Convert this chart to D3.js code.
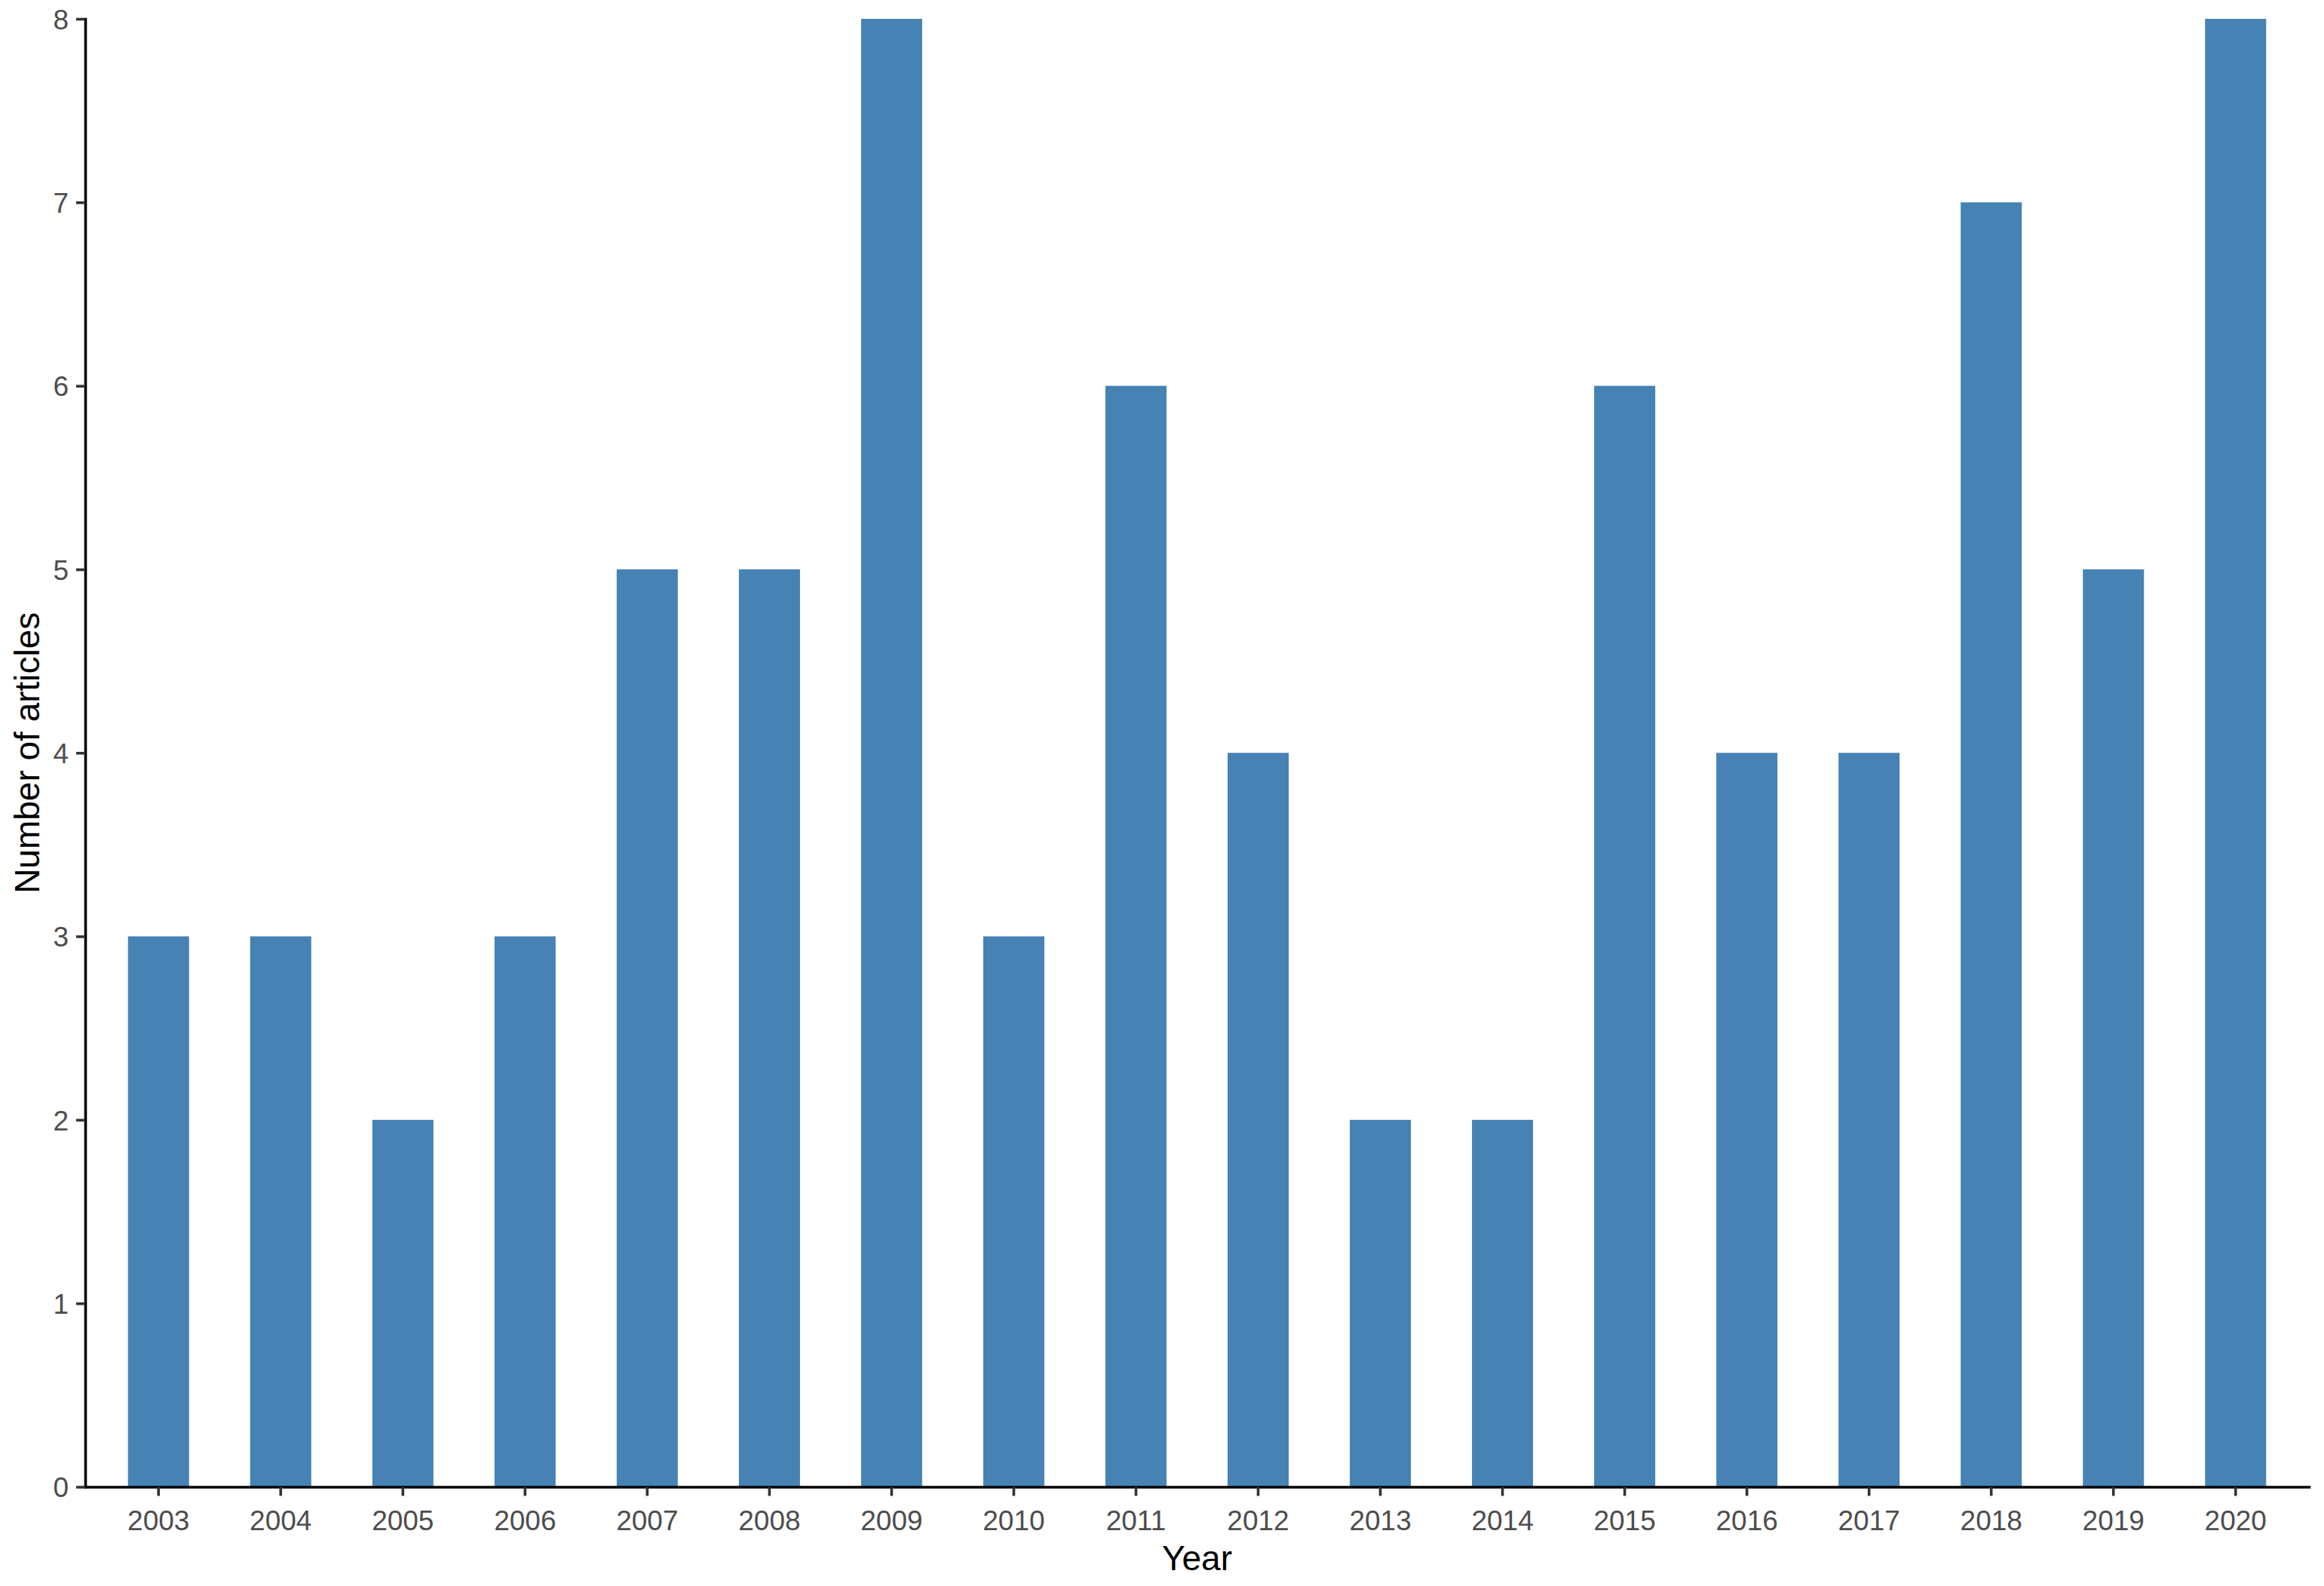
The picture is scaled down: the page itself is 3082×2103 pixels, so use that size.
<!DOCTYPE html>
<html>
<head>
<meta charset="utf-8">
<script src="https://cdn.jsdelivr.net/npm/d3@7"></script>
<style>
  body { margin: 0; background: #fff; }
  text { font-family: "Liberation Sans", Arial, sans-serif; }
</style>
</head>
<body>
<svg id="vis" width="3082" height="2103"></svg>
<script>
// articles per year
var years = ["2003", "2004", "2005", "2006", "2007", "2008", "2009", "2010", "2011",
             "2012", "2013", "2014", "2015", "2016", "2017", "2018", "2019", "2020"];
var articles = [3, 3, 2, 3, 5, 5, 8, 3, 6, 4, 2, 2, 6, 4, 4, 7, 5, 8];
var yTicks = [0, 1, 2, 3, 4, 5, 6, 7, 8];

var svg = d3.select("#vis");

let margin = {
  top:    25,
  right:  20,
  bottom: 131.5,
  left:   113
};
let width = 3082, height = 2103;
let plotRight = width - margin.right;
let plotBottom = height - margin.bottom;

var xScale = d3.scaleBand()
  .domain(years)
  .range([margin.left, plotRight])
  .paddingInner(0.5)
  .paddingOuter(0.35);

var yScale = d3.scaleLinear()
  .domain([0, 8])
  .range([plotBottom, margin.top]);

// bars
svg.append("g").selectAll("rect")
  .data(years)
  .enter().append("rect")
  .attr("x", function(d) { return xScale(d); })
  .attr("width", xScale.bandwidth())
  .attr("y", function(d, i) { return yScale(articles[i]); })
  .attr("height", function(d, i) { return plotBottom - yScale(articles[i]); })
  .attr("fill", "#4682B4");

// x axis
let xGroup = svg.append("g")
  .attr("transform", "translate(0," + plotBottom + ")")
  .call(d3.axisBottom(xScale).tickSizeInner(12).tickSizeOuter(0).tickPadding(19));

// y axis
let yGroup = svg.append("g")
  .attr("transform", "translate(" + margin.left + ",0)")
  .call(d3.axisLeft(yScale).tickValues(yTicks).tickFormat(d3.format("d"))
    .tickSizeInner(12).tickSizeOuter(0).tickPadding(10));

[xGroup, yGroup].forEach(function(g) {
  g.select(".domain").attr("stroke", "#000").attr("stroke-width", 3.6).attr("stroke-linecap", "square");
  g.selectAll(".tick line").attr("stroke", "#333333").attr("stroke-width", 3.6);
  g.selectAll(".tick text")
    .attr("fill", "#4d4d4d")
    .style("font-size", "37px")
    .style("font-family", "'Liberation Sans', Arial, sans-serif");
});
yGroup.selectAll(".tick text").attr("dy", "0.36em");

// axis titles
svg.append("text")
  .attr("x", (margin.left + plotRight) / 2)
  .attr("y", 2082)
  .attr("text-anchor", "middle")
  .style("font-size", "46px")
  .attr("fill", "#000")
  .text("Year");

svg.append("text")
  .attr("transform", "translate(52," + (margin.top + plotBottom) / 2 + ") rotate(-90)")
  .attr("text-anchor", "middle")
  .style("font-size", "46px")
  .attr("fill", "#000")
  .text("Number of articles");
</script>
</body>
</html>
